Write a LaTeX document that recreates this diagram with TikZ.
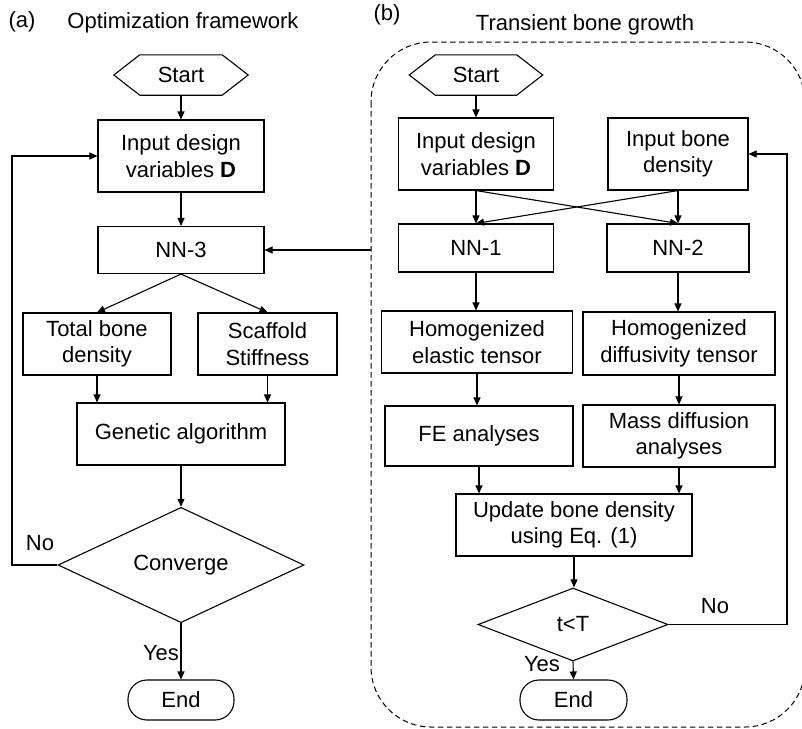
\documentclass[tikz,border=0pt]{standalone}
\usepackage{fontspec}
\setmainfont{Liberation Sans}
\usetikzlibrary{arrows.meta,shapes.geometric,calc}
\begin{document}
\begin{tikzpicture}[x=1pt,y=-1pt,
  txt/.style={font=\fontsize{22}{26.5}\selectfont, align=center, text=black},
  box/.style={txt, draw, line width=1.1pt, inner sep=0pt, minimum width=#1},
  hexa/.style={txt, inner sep=0pt, minimum width=#1, minimum height=40pt},
  dia/.style={txt, diamond, draw, line width=1.1pt, inner sep=0pt},
  term/.style={txt, draw, line width=1.1pt, rounded corners=19pt, inner sep=0pt, minimum width=#1, minimum height=40pt},
  arr/.style={line width=1.1pt, -{Triangle[length=8pt,width=7pt]}},
  ln/.style={line width=1.1pt},
  lbl/.style={txt}
]
\useasboundingbox (0,0) rectangle (802,728);
\clip (0,0) rectangle (802,728);

% titles
\node[lbl] (ta) at (22,22) {(a)};
\node[lbl] (tat) at (183,23) {Optimization framework};
\node[lbl] (tb) at (387,15) {(b)};
\node[lbl] (tbt) at (585,25) {Transient bone growth};

% dashed frame
\draw[line width=1pt, dash pattern=on 5.5pt off 3.5pt, rounded corners=60pt] (371,42) rectangle (805,727);
\coordinate (bl) at (371,250);

% ---------- left panel ----------
\node[hexa=134pt] (s1) at (181,75) {Start};
\draw[ln] (s1.west) -- ($(s1.north west)+(26,0)$) -- ($(s1.north east)+(-26,0)$) -- (s1.east) -- ($(s1.south east)+(-26,0)$) -- ($(s1.south west)+(26,0)$) -- cycle;
\node[box=166pt, minimum height=72pt] (d1) at (181,156) {Input design\\variables \textbf{D}};
\node[box=166pt, minimum height=47pt] (nn3) at (181,250) {NN-3};
\node[box=148pt, minimum height=62pt] (tbd) at (97,344) {Total bone\\density};
\node[box=139pt, minimum height=62pt] (ss) at (267.5,344) {Scaffold\\Stiffness};
\node[box=208pt, minimum height=62pt] (ga) at (181,434) {Genetic algorithm};
\node[dia, minimum width=246pt, minimum height=102pt] (cv) at (181,565) {Converge};
\node[term=106pt] (e1) at (181,700) {End};

\draw[arr] (s1.south) -- (d1.north);
\draw[arr] (d1.south) -- (nn3.north);
\draw[arr] (nn3.south) -- (tbd.north);
\draw[arr] (nn3.south) -- (ss.north);
\draw[arr] (tbd.south) -- (tbd.south |- ga.north);
\draw[arr] (ss.south) -- (ss.south |- ga.north);
\draw[arr] (ga.south) -- (cv.north);
\draw[arr] (cv.west) -- (12,565) -- (12,156) -- (d1.west);
\draw[arr] (cv.south) -- (e1.north);
\draw[arr] (bl) -- (nn3.east);
\node[lbl] (no1) at (40,543) {No};
\node[lbl] (yes1) at (161,653) {Yes};

% ---------- right panel ----------
\node[hexa=133pt] (s2) at (476,75) {Start};
\draw[ln] (s2.west) -- ($(s2.north west)+(26,0)$) -- ($(s2.north east)+(-26,0)$) -- (s2.east) -- ($(s2.south east)+(-26,0)$) -- ($(s2.south west)+(26,0)$) -- cycle;
\node[box=155pt, minimum height=72pt] (d2) at (476,154) {Input design\\variables \textbf{D}};
\node[box=140pt, minimum height=72pt] (bd) at (678,154) {Input bone\\density};
\node[box=155pt, minimum height=48pt] (nn1) at (476,248) {NN-1};
\node[box=142pt, minimum height=48pt] (nn2) at (678,248) {NN-2};
\node[box=191pt, minimum height=62pt] (het) at (477,342) {Homogenized\\elastic tensor};
\node[box=192pt, minimum height=63pt] (hdt) at (679,343.5) {Homogenized\\diffusivity tensor};
\node[box=188pt, minimum height=60pt] (fe) at (479,436) {FE analyses};
\node[box=192pt, minimum height=62pt] (mda) at (679,436) {Mass diffusion\\analyses};
\node[box=236pt, minimum height=62pt] (upd) at (574,525) {Update bone density\\using Eq. (1)};
\node[dia, minimum width=190pt, minimum height=73pt] (tt) at (573,624.5) {t<T};
\node[term=107pt] (e2) at (573.5,700) {End};

\draw[arr] (s2.south) -- (s2.south |- d2.north);
\draw[arr] (d2.south) -- (nn1.north);
\draw[arr] (bd.south) -- (nn2.north);
\draw[arr] (d2.south) -- (nn2.north);
\draw[arr] (bd.south) -- (nn1.north);
\draw[arr] (nn1.south) -- (nn1.south |- het.north);
\draw[arr] (nn2.south) -- (nn2.south |- hdt.north);
\draw[arr] (het.south) -- (het.south |- fe.north);
\draw[arr] (hdt.south) -- (hdt.south |- mda.north);
\draw[arr] (fe.south) -- (fe.south |- upd.north);
\draw[arr] (mda.south) -- (mda.south |- upd.north);
\draw[arr] (upd.south) -- (upd.south |- tt.north);
\draw[arr] (tt.east) -- (787,624.5) -- (787,154) -- (bd.east);
\draw[arr] (tt.south) -- (e2.north);
\node[lbl] (no2) at (715,606) {No};
\node[lbl] (yes2) at (542,664) {Yes};
\end{tikzpicture}
\end{document}
